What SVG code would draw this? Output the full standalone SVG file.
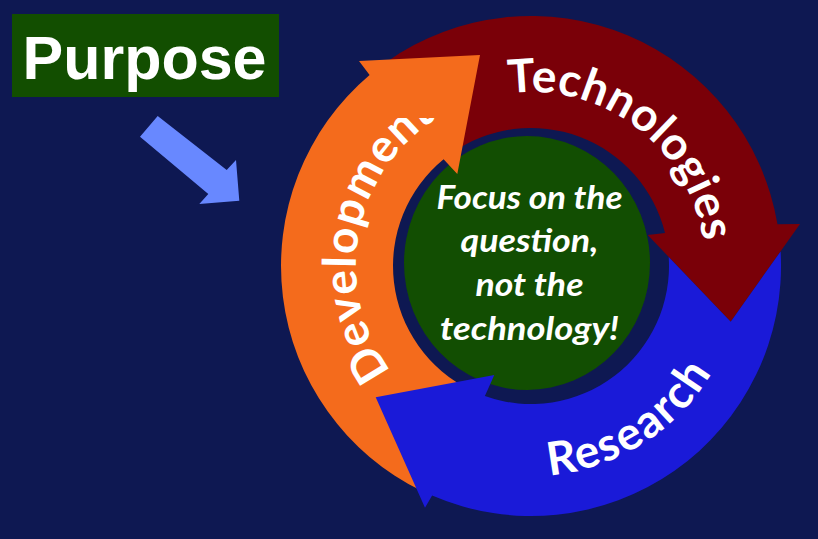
<svg xmlns="http://www.w3.org/2000/svg" width="818" height="539" viewBox="0 0 818 539">
  <defs>
    <style>
      .arc-label { font-family: Lato, "Open Sans", "DejaVu Sans", sans-serif; font-weight: bold; font-size: 46px; fill: #ffffff; }
      .center-label { font-family: Lato, "Open Sans", "DejaVu Sans", sans-serif; font-weight: bold; font-style: italic; font-size: 33px; fill: #ffffff; text-anchor: middle; }
      .purpose-label { font-family: "Liberation Sans", Arial, sans-serif; font-weight: bold; font-size: 61px; fill: #ffffff; text-anchor: middle; }
    </style>
    <path id="p-tech" d="M508.6,93.4 A174,174 0 0 1 705,266" fill="none"/>
    <path id="p-research" d="M549.3,475.2 A210,210 0 0 0 728.3,337.8" fill="none"/>
    <path id="p-dev" d="M391.2,371.3 A175,175 0 0 1 443.5,114.4" fill="none"/>
    <clipPath id="clip-dev">
      <rect x="0" y="118" width="818" height="421"/>
    </clipPath>
  </defs>

  <rect x="0" y="0" width="818" height="539" fill="#0e1852"/>

  <g id="purpose">
    <rect x="12" y="14" width="267" height="83" fill="#124e00"/>
    <text class="purpose-label" x="144.5" y="79">Purpose</text>
  </g>

  <g id="connectors">
    <polygon points="157.7,116 226.7,170 236,160 239.3,200.7 199.3,204 208.3,194 140,136.7" fill="#6888ff"/>
  </g>

  <g id="center">
    <ellipse cx="527" cy="263" rx="123" ry="127" fill="#124e02"/>
    <text class="center-label" x="529.5" y="209" textLength="186" lengthAdjust="spacingAndGlyphs">Focus on the</text>
    <text class="center-label" x="529.5" y="252" textLength="138" lengthAdjust="spacingAndGlyphs">question,</text>
    <text class="center-label" x="529.5" y="296" textLength="108" lengthAdjust="spacingAndGlyphs">not the</text>
    <text class="center-label" x="529.5" y="340" textLength="179" lengthAdjust="spacingAndGlyphs">technology!</text>
  </g>

  <g id="technologies">
    <path d="M387.6,61.2 A250,250 0 0 1 777.5,224.3 L800,224 L730.7,321.7 L647.7,235 L665,232.9 A138,138 0 0 0 451.8,153 Z" fill="#7a0008"/>
    <text class="arc-label"><textPath href="#p-tech" textLength="271" lengthAdjust="spacing">Technologies</textPath></text>
  </g>

  <g id="development">
    <path d="M421.4,490.7 A250,250 0 0 1 369.6,75.1 L359,61 L480,55 L457.3,174 L443.6,159.2 A138,138 0 0 0 470.5,390 Z" fill="#f46b1c"/>
    <text class="arc-label" clip-path="url(#clip-dev)"><textPath href="#p-dev" textLength="287" lengthAdjust="spacing">Development</textPath></text>
  </g>

  <g id="research">
    <path d="M780.6,251.4 A250,250 0 0 1 432.1,495.6 L425,507.7 L375.7,397.3 L494.3,375 L484.9,396.1 A138,138 0 0 0 668.7,256.9 L730.7,321.7 Z" fill="#1a1ad8"/>
    <text class="arc-label"><textPath href="#p-research" textLength="199" lengthAdjust="spacing">Research</textPath></text>
  </g>
</svg>
